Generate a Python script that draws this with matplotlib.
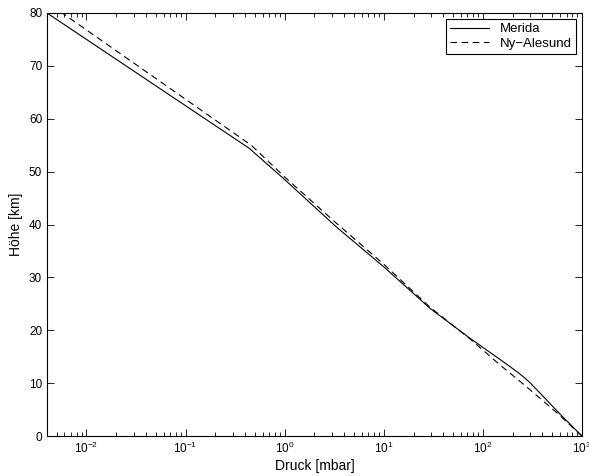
import matplotlib
matplotlib.use("Agg")
import matplotlib.pyplot as plt
from matplotlib.ticker import LogLocator, NullFormatter

plt.rcParams['font.family'] = ['Liberation Sans', 'DejaVu Sans']

# Merida (solid): height [km] and pressure [mbar]
merida_km = [0.0, 4.0, 8.0, 10.0, 11.0, 12.0, 13.0, 14.0, 18.5, 24.1, 32.0, 39.6, 48.5, 54.4, 80.0]
merida_p = [1000, 611, 383, 302, 264, 227, 192, 162, 74, 29.5, 10.0, 3.3, 1.0, 0.44, 0.004]

# Ny-Alesund (dashed)
ny_km = [0.0, 4.6, 6.5, 9.96, 13.4, 18.5, 24.3, 32.5, 40.3, 49.0, 55.0, 80.0]
ny_p = [1000, 543, 414, 251, 150, 72.8, 29.5, 10.0, 3.3, 1.0, 0.46, 0.0057]

labels = ["Merida", "Ny\u2212Alesund"]

fig = plt.figure(figsize=(5.89, 4.76), dpi=100)
ax = fig.add_axes([0.0798, 0.084, 0.9082, 0.8887])

ax.plot(merida_p, merida_km, 'k-', lw=0.8, label=labels[0])
ax.plot(ny_p, ny_km, 'k--', lw=0.8, dashes=(6, 4), label=labels[1])

ax.set_xscale('log')
ax.set_xlim(0.004, 1000)
ax.set_ylim(0, 80)
ax.set_yticks(range(0, 81, 10))
ax.xaxis.set_major_locator(LogLocator(base=10, numticks=20))
ax.xaxis.set_minor_locator(LogLocator(base=10, subs=range(2, 10), numticks=100))
ax.xaxis.set_minor_formatter(NullFormatter())

ax.tick_params(which='both', direction='in', top=True, right=True, labelsize=8.5, width=0.6)
ax.tick_params(which='major', length=5)
ax.tick_params(which='minor', length=3)
for s in ax.spines.values():
    s.set_linewidth(0.8)

ax.set_xlabel('Druck [mbar]', fontsize=10, labelpad=2)
ax.set_ylabel('H\u00f6he [km]', fontsize=10, labelpad=4)

leg = ax.legend(loc='upper right', fontsize=9.5, fancybox=False, framealpha=1,
                edgecolor='black', handlelength=3.0, borderaxespad=0.45,
                borderpad=0.3, labelspacing=0.2)
leg.get_frame().set_linewidth(0.8)

fig.savefig('out.png', dpi=100)
